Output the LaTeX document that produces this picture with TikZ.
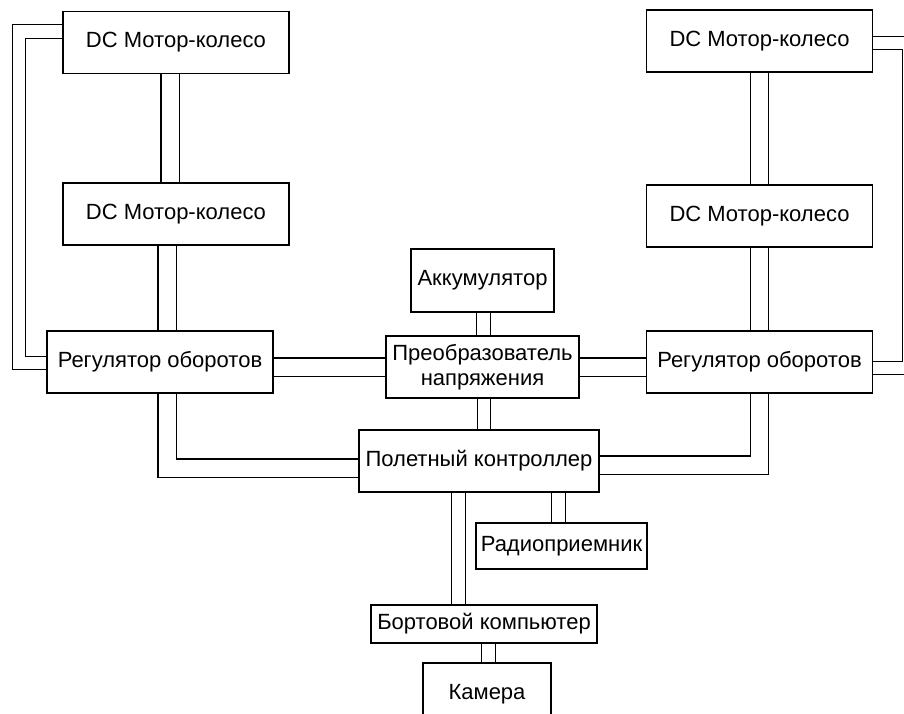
\documentclass[tikz,border=0pt]{standalone}
\usepackage{fontspec}
\setmainfont{Liberation Sans}
\usetikzlibrary{positioning}

\begin{document}
\begin{tikzpicture}[x=1pt,y=-1pt,font=\fontsize{22}{25}\selectfont]
\tikzstyle{box}=[rectangle,draw=black,line width=1.4pt,minimum width=226pt,minimum height=62pt,inner sep=2pt,align=center]
\tikzstyle{bus}=[line width=1.2pt,double=white,double distance=12.5pt]
\tikzstyle{widebus}=[line width=1.2pt,double=white,double distance=17pt]

\clip (0,0) rectangle (904,713);

\node[box] (motorLT) at (176,42.5) {DC Мотор-колесо};
\node[box] (motorLB) at (176,214) {DC Мотор-колесо};
\node[box] (regL) at (160,362) {Регулятор оборотов};
\node[box] (motorRT) at (759.5,41) {DC Мотор-колесо};
\node[box] (motorRB) at (759.5,216) {DC Мотор-колесо};
\node[box] (regR) at (759.5,362) {Регулятор оборотов};
\node[box,minimum width=143pt,minimum height=63pt] (akk) at (482.5,280.5) {Аккумулятор};
\node[box,minimum width=193pt] (conv) at (482.5,367) {Преобразователь\\напряжения};
\node[box,minimum width=240pt] (fc) at (479,461) {Полетный контроллер};
\node[box,minimum width=171pt,minimum height=46pt] (radio) at (561.5,546) {Радиоприемник};
\node[box,minimum height=38pt] (board) at (484,624) {Бортовой компьютер};
\node[box,minimum width=128pt] (cam) at (487,694) {Камера};

\coordinate (loopL) at (19,0);
\coordinate (loopR) at (909,0);

% left wheels
\draw[widebus] ([xshift=-6pt]motorLT.south) -- ([xshift=-6pt]motorLB.north);
\draw[widebus] ([xshift=-9pt]motorLB.south) -- ([xshift=7pt]regL.north);
\draw[bus] ([yshift=11pt]motorLT.west) -| ([yshift=-1pt]regL.west -| loopL) -- ([yshift=-1pt]regL.west);

% right wheels
\draw[widebus] (motorRT.south) -- (motorRB.north);
\draw[widebus] (motorRB.south) -- (regR.north);
\draw[bus] ([yshift=-2pt]motorRT.east) -| ([yshift=-6pt]regR.east -| loopR) -- ([yshift=-6pt]regR.east);

% power and control
\draw[bus] ([xshift=1pt]akk.south) -- ([xshift=1pt]conv.north);
\draw[widebus] (conv.west) -- (conv.west -| regL.east);
\draw[widebus] (conv.east) -- (conv.east -| regR.west);
\draw[bus] ([xshift=1.5pt]conv.south) -- ([xshift=1.5pt]conv.south |- fc.north);
\draw[widebus] ([xshift=7pt]regL.south) |- ([yshift=-7pt]fc.west);
\draw[widebus] (regR.south) |- ([yshift=-4pt]fc.east);
\draw[bus] ([xshift=-20.5pt]fc.south) -- ([xshift=-20.5pt]fc.south |- board.north);
\draw[bus] ([xshift=-3pt]radio.north) -- ([xshift=-3pt]radio.north |- fc.south);
\draw[bus] ([xshift=1.5pt]cam.north) -- ([xshift=1.5pt]cam.north |- board.south);
\end{tikzpicture}
\end{document}
